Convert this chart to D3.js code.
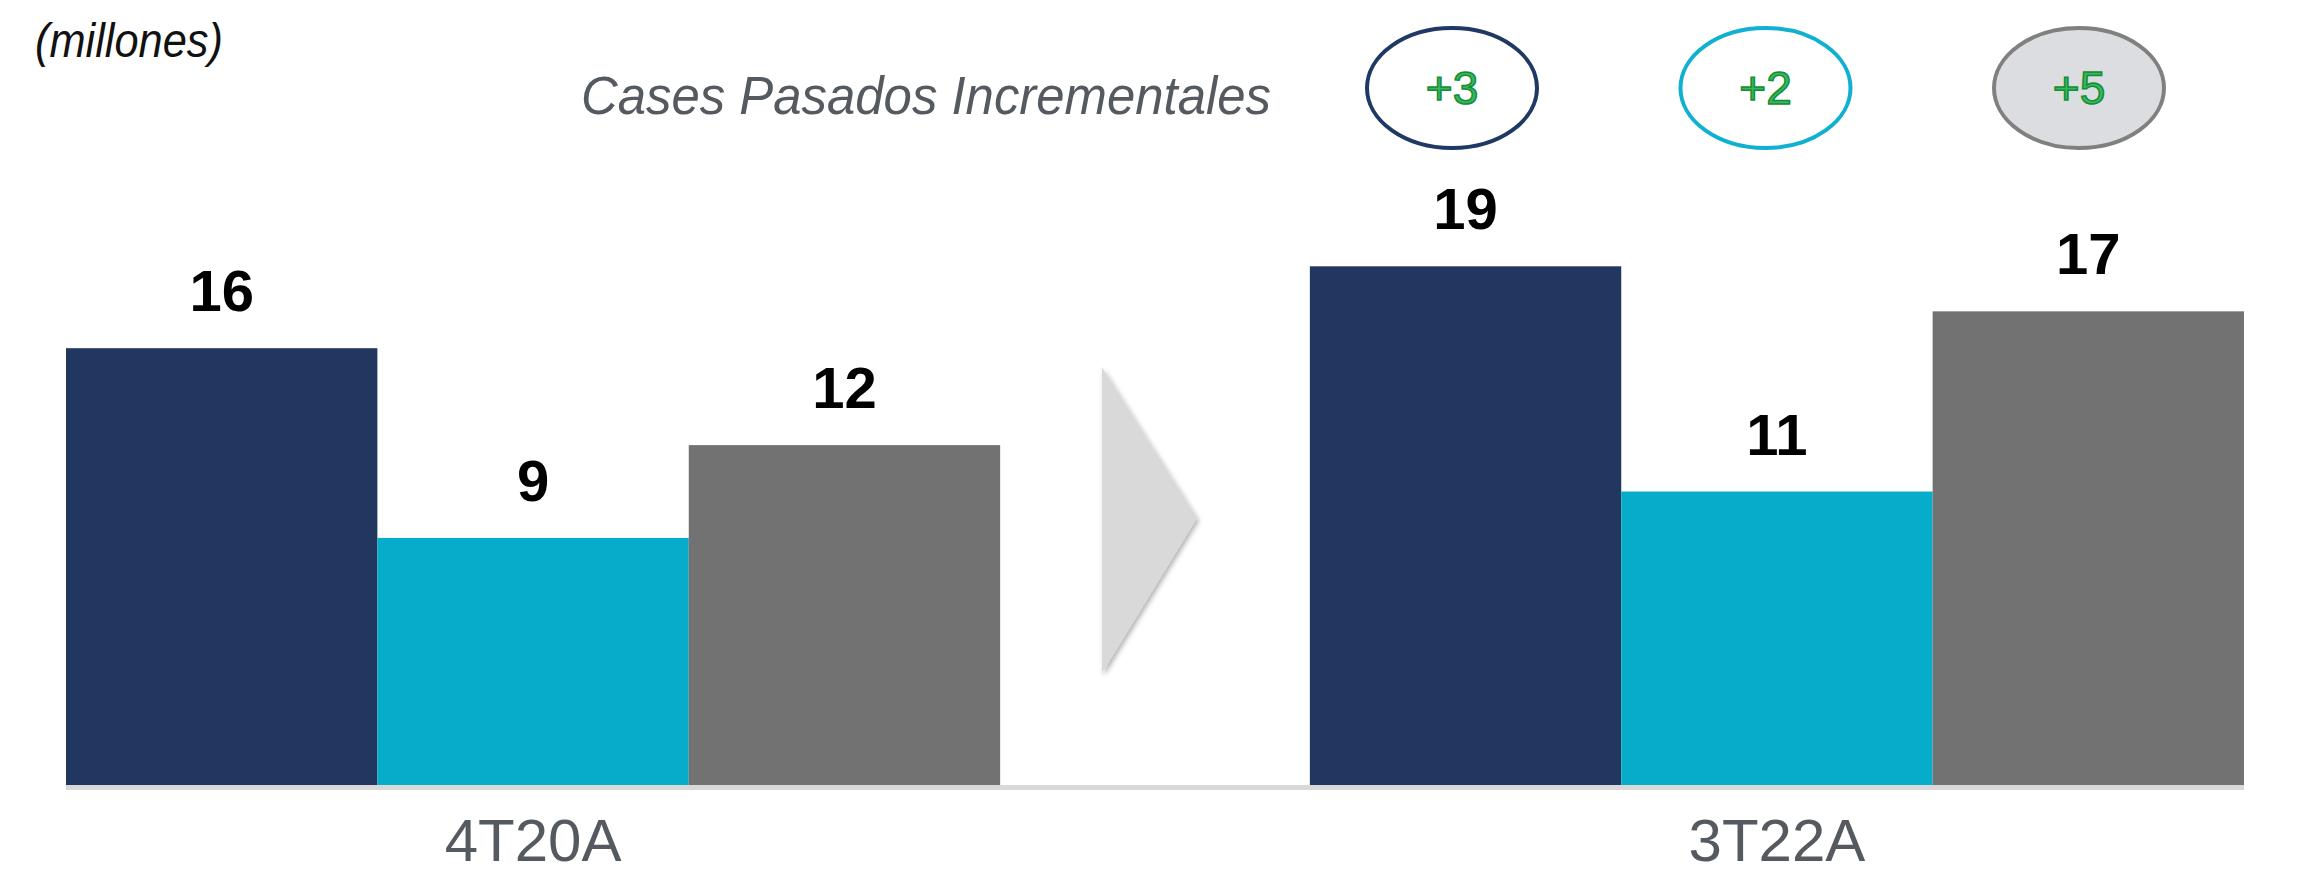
<!DOCTYPE html>
<html>
<head>
<meta charset="utf-8">
<script src="https://cdn.jsdelivr.net/npm/d3@7"></script>
<style>
  body { margin: 0; background: #fff; }
  svg { display: block; font-family: 'Liberation Sans', Arial, sans-serif; }
</style>
</head>
<body>
<div id="chart"></div>
<script>
// periods on the x axis
const periods = ['4T20A', '3T22A'];
// three series per period (millones)
const series = ['s1', 's2', 's3'];
const valuesA = [16.0, 9.05, 12.45];
const valuesB = [19.0, 10.75, 17.35];
// incremental cases shown in the bubbles
const increments = ['+3', '+2', '+5'];

const colors = ['#21375f', '#05adca', '#717271'];
const bubbleStroke = ['#203864', '#10b0d0', '#808080'];
const bubbleFill = ['#ffffff', '#ffffff', '#dcdde0'];

const width = 2304;
const height = 876;
const baseY = 785;

const data = [];
periods.forEach((p, i) => {
  const vals = i === 0 ? valuesA : valuesB;
  series.forEach((s, j) => data.push({ period: p, series: s, idx: j, value: vals[j] }));
});

const svg = d3
  .select('#chart')
  .append('svg')
  .attr('width', width)
  .attr('height', height);

const x0 = d3.scaleBand()
  .domain(periods)
  .range([66, 2244])
  .paddingInner(0.249)
  .paddingOuter(0);

const x1 = d3.scaleBand()
  .domain(series)
  .range([0, x0.bandwidth()])
  .padding(0);

const y = d3.scaleLinear()
  .domain([0, 20])
  .range([baseY, baseY - 546]);

// drop shadow for the arrow
const defs = svg.append('defs');
defs.append('filter')
  .attr('id', 'shadow')
  .attr('x', '-20%').attr('y', '-20%').attr('width', '140%').attr('height', '140%')
  .append('feDropShadow')
  .attr('dx', 2).attr('dy', 3)
  .attr('stdDeviation', 2.5)
  .attr('flood-color', '#000')
  .attr('flood-opacity', 0.3);

// unit note
svg.append('text')
  .attr('x', 35)
  .attr('y', 57)
  .attr('font-size', 48)
  .attr('font-style', 'italic')
  .attr('fill', '#111')
  .attr('textLength', 188)
  .attr('lengthAdjust', 'spacingAndGlyphs')
  .text('(millones)');

// header
svg.append('text')
  .attr('x', 581)
  .attr('y', 114)
  .attr('font-size', 53)
  .attr('font-style', 'italic')
  .attr('fill', '#555a60')
  .attr('textLength', 690)
  .attr('lengthAdjust', 'spacingAndGlyphs')
  .text('Cases Pasados Incrementales');

// bubbles
const bx = d3.scalePoint().domain(increments).range([1452, 2079]);
const bubbles = svg.append('g')
  .selectAll('g')
  .data(increments)
  .join('g')
  .attr('transform', (d) => `translate(${bx(d)},88)`);

bubbles.append('ellipse')
  .attr('rx', 85)
  .attr('ry', 60)
  .attr('fill', (d, i) => bubbleFill[i])
  .attr('stroke', (d, i) => bubbleStroke[i])
  .attr('stroke-width', 4);

bubbles.append('text')
  .attr('text-anchor', 'middle')
  .attr('y', 16)
  .attr('font-size', 46)
  .attr('fill', '#3db45e')
  .attr('stroke', '#0f8f36')
  .attr('stroke-width', 1.5)
  .text((d) => d);

// arrow between the periods
svg.append('path')
  .attr('d', 'M1102,367 L1197,518 L1102,673 Z')
  .attr('fill', '#d9d9d9')
  .attr('filter', 'url(#shadow)');

// baseline
svg.append('rect')
  .attr('x', x0.range()[0])
  .attr('y', baseY)
  .attr('width', x0.range()[1] - x0.range()[0])
  .attr('height', 5)
  .attr('fill', '#d9d9d9');

// bars
svg.append('g')
  .selectAll('rect')
  .data(data)
  .join('rect')
  .attr('x', (d) => x0(d.period) + x1(d.series))
  .attr('y', (d) => y(d.value))
  .attr('width', x1.bandwidth())
  .attr('height', (d) => y(0) - y(d.value))
  .attr('fill', (d) => colors[d.idx]);

// value labels
svg.append('g')
  .selectAll('text')
  .data(data)
  .join('text')
  .attr('x', (d) => x0(d.period) + x1(d.series) + x1.bandwidth() / 2)
  .attr('y', (d) => y(d.value) - 37)
  .attr('text-anchor', 'middle')
  .attr('font-size', 58)
  .attr('font-weight', 'bold')
  .attr('fill', '#000')
  .text((d) => d3.format('.0f')(d.value));

// period labels
svg.append('g')
  .selectAll('text')
  .data(periods)
  .join('text')
  .attr('x', (d) => x0(d) + x0.bandwidth() / 2)
  .attr('y', 861)
  .attr('text-anchor', 'middle')
  .attr('font-size', 60)
  .attr('fill', '#555a60')
  .text((d) => d);
</script>
</body>
</html>
